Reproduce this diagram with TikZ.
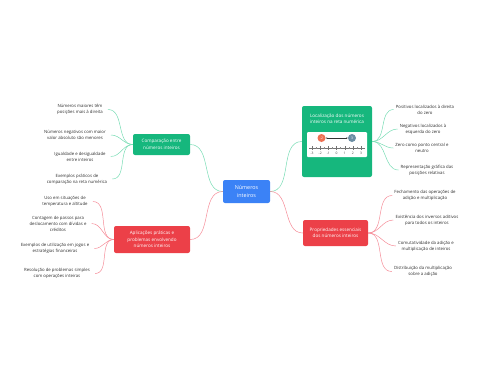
\documentclass[tikz,border=0pt]{standalone}
\usepackage{fontspec}
\setmainfont{Open Sans}
\usetikzlibrary{positioning,arrows.meta}
\definecolor{topic}{RGB}{59,130,246}
\definecolor{okgreen}{RGB}{22,183,125}
\definecolor{alert}{RGB}{236,64,72}
\definecolor{greenline}{RGB}{120,220,180}
\definecolor{redline}{RGB}{245,140,152}
\definecolor{dotorange}{RGB}{238,112,82}
\definecolor{dotslate}{RGB}{108,142,164}
\definecolor{leaftext}{RGB}{45,45,45}

\tikzset{
  hub/.style={fill=topic, rounded corners=2pt, text=white, align=center,
              font=\fontsize{5.4}{7.6}\selectfont, inner sep=0pt},
  branch/.style={rounded corners=2pt, text=white, align=center,
                 font=\fontsize{4.6}{6.4}\selectfont, inner sep=0pt},
  leaf/.style={text=leaftext, align=center, inner sep=2pt,
               font=\fontsize{4.3}{6}\selectfont},
  gwire/.style={draw=greenline, line width=0.5pt},
  rwire/.style={draw=redline, line width=0.5pt},
}

\begin{document}
\begin{tikzpicture}[x=1pt, y=-1pt]
  \useasboundingbox (0,0) rectangle (480,384);

  % central topic
  \node[hub, minimum width=47pt, minimum height=23pt] (root) at (246.5,191.5)
    {Números\\inteiros};

  % main branches
  \node[branch, fill=okgreen, minimum width=57pt, minimum height=21pt] (cmp)
    at (161.5,144.5) {Comparação entre\\números inteiros};
  \node[branch, fill=alert, minimum width=76pt, minimum height=27pt] (app)
    at (152,239.5) {Aplicações práticas e\\problemas envolvendo\\números inteiros};
  \node[branch, fill=alert, minimum width=65pt, minimum height=26pt] (prop)
    at (335.5,233) {Propriedades essenciais\\dos números inteiros};
  \node[branch, fill=okgreen, minimum width=70pt, minimum height=71pt] (loc)
    at (337,141.5) {};
  \node[branch] (lochead) at (337,119) {Localização dos números\\inteiros na reta numérica};
  \node[fill=white, rounded corners=1pt, minimum width=60pt, minimum height=25pt,
        inner sep=0pt] (nline) at (337,144.5) {};

  % number line picture
  \draw[black!55, line width=0.4pt] (309,148) -- (365,148);
  \foreach \n [count=\i from 0] in {-3,-2,-1,0,1,2,3} {
    \draw[black!55, line width=0.35pt] (312+\i*8.17,146.3) -- (312+\i*8.17,149.7);
    \node[text=black!75, inner sep=0pt, font=\fontsize{3.3}{3.5}\selectfont]
      at (312+\i*8.17,153) {\n};
  }
  \foreach \i in {0,...,5}
    \draw[black!45, line width=0.3pt] (316.1+\i*8.17,147) -- (316.1+\i*8.17,149);
  \node[circle, fill=dotorange, minimum size=8pt, inner sep=0pt, text=white,
        font=\fontsize{3.4}{4}\selectfont] (dneg) at (321.5,138) {-2};
  \node[circle, fill=dotslate, minimum size=8pt, inner sep=0pt, text=white,
        font=\fontsize{3.4}{4}\selectfont] (dpos) at (352,138) {3};
  \draw[{Stealth[length=1.6pt]}-{Stealth[length=1.6pt]}, black!80, line width=0.4pt]
    (dneg.east) -- (dpos.west);

  % leaves of the comparison branch
  \node[leaf] (c1) at (80,109.5) {Números maiores têm\\posições mais à direita};
  \node[leaf] (c2) at (75,135) {Números negativos com maior\\valor absoluto são menores};
  \node[leaf] (c3) at (80,156.5) {Igualdade e desigualdade\\entre inteiros};
  \node[leaf] (c4) at (77,179) {Exemplos práticos de\\comparação na reta numérica};

  % leaves of the applications branch
  \node[leaf] (a1) at (65,201.5) {Uso em situações de\\temperatura e altitude};
  \node[leaf] (a2) at (58,223.5) {Contagem de passos para\\deslocamento com dívidas e\\créditos};
  \node[leaf] (a3) at (55,248.5) {Exemplos de utilização em jogos e\\estratégias financeiras};
  \node[leaf] (a4) at (57,273.5) {Resolução de problemas simples\\com operações inteiras};

  % leaves of the number line branch
  \node[leaf] (n1) at (425,109.5) {Positivos localizados à direita\\do zero};
  \node[leaf] (n2) at (423,129) {Negativos localizados à\\esquerda do zero};
  \node[leaf] (n3) at (422,148) {Zero como ponto central e\\neutro};
  \node[leaf] (n4) at (427,170) {Representação gráfica das\\posições relativas};

  % leaves of the properties branch
  \node[leaf] (p1) at (425,195.5) {Fechamento das operações de\\adição e multiplicação};
  \node[leaf] (p2) at (427,220) {Existência dos inversos aditivos\\para todos os inteiros};
  \node[leaf] (p3) at (426,246) {Comutatividade da adição e\\multiplicação de inteiros};
  \node[leaf] (p4) at (423,271.5) {Distribuição da multiplicação\\sobre a adição};

  % connectors
  \draw[gwire] (root.west) to[out=180, in=0] (cmp.east);
  \draw[rwire] (root.west) to[out=180, in=0] (app.east);
  \draw[gwire] (root.east) to[out=0, in=180] (loc.west);
  \draw[rwire] (root.east) to[out=0, in=180] (prop.west);
  \foreach \k in {c1,c2,c3,c4}
    \draw[gwire] (cmp.west) to[out=180, in=0] ([xshift=3pt]\k.east);
  \foreach \k in {a1,a2,a3,a4}
    \draw[rwire] (app.west) to[out=180, in=0] ([xshift=3pt]\k.east);
  \foreach \k in {n1,n2,n3,n4}
    \draw[gwire] (loc.east) to[out=0, in=180] (\k.west);
  \foreach \k in {p1,p2,p3,p4}
    \draw[rwire] (prop.east) to[out=0, in=180] (\k.west);
\end{tikzpicture}
\end{document}
